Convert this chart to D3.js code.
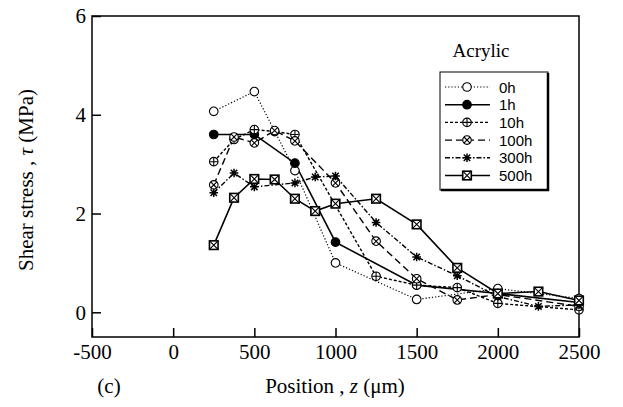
<!DOCTYPE html>
<html>
<head>
<meta charset="utf-8">
<script src="https://cdn.jsdelivr.net/npm/d3@7"></script>
<style>
  body { margin: 0; background: #fff; }
  svg { display: block; }
</style>
</head>
<body>
<div id="chart"></div>
<script>
// values (z in um, tau in MPa)
const seriesNames = ["0h", "1h", "10h", "100h", "300h", "500h"];

const z0h = [250, 500, 750, 1000, 1500, 2000, 2500];
const tau0h = [4.07, 4.47, 2.87, 1.0, 0.26, 0.48, 0.28];

const z1h = [250, 500, 750, 1000, 1500, 2000, 2500];
const tau1h = [3.6, 3.6, 3.02, 1.42, 0.55, 0.38, 0.2];

const z10h = [250, 375, 500, 625, 750, 1250, 1500, 1750, 2000, 2500];
const tau10h = [3.05, 3.5, 3.7, 3.66, 3.6, 0.73, 0.55, 0.5, 0.18, 0.05];

const z100h = [250, 375, 500, 625, 750, 1000, 1250, 1500, 1750, 2000, 2500];
const tau100h = [2.58, 3.55, 3.43, 3.68, 3.47, 2.62, 1.44, 0.68, 0.25, 0.36, 0.12];

const z300h = [250, 375, 500, 750, 875, 1000, 1250, 1500, 1750, 2000, 2250, 2500];
const tau300h = [2.42, 2.82, 2.54, 2.62, 2.74, 2.76, 1.82, 1.12, 0.74, 0.32, 0.12, 0.15];

const z500h = [250, 375, 500, 625, 750, 875, 1000, 1250, 1500, 1750, 2000, 2250, 2500];
const tau500h = [1.36, 2.32, 2.7, 2.69, 2.3, 2.05, 2.2, 2.3, 1.78, 0.9, 0.38, 0.42, 0.24];

const xTicks = [-500, 0, 500, 1000, 1500, 2000, 2500];
const yTicks = [0, 2, 4, 6];

const zs = [z0h, z1h, z10h, z100h, z300h, z500h];
const taus = [tau0h, tau1h, tau10h, tau100h, tau300h, tau500h];

// line + marker style per series
const styles = [
    { marker: "open", dash: "1.2,2", width: 1.2 },
    { marker: "filled", dash: null, width: 1.6 },
    { marker: "oplus", dash: "3,2", width: 1.4 },
    { marker: "otimes", dash: "7,4", width: 1.4 },
    { marker: "star", dash: "5,2,1.5,2", width: 1.4 },
    { marker: "boxtimes", dash: null, width: 1.6 }
];

const series = seriesNames.map((name, i) => ({
    name,
    style: styles[i],
    points: zs[i].map((z, j) => ({ z, tau: taus[i][j] }))
}));

const W = 623, H = 407;
const svg = d3.select("#chart").append("svg")
    .attr("width", W).attr("height", H);

const x = d3.scaleLinear().domain([-500, 2500]).range([92, 579]);
const y = d3.scaleLinear().domain([-0.5, 6]).range([337, 16]);

const serif = "'Liberation Serif', 'Times New Roman', serif";
const sans = "'Liberation Sans', Arial, sans-serif";

// axes with inward ticks
const xAxis = svg.append("g")
    .attr("transform", `translate(0,${y(-0.5)})`)
    .call(d3.axisBottom(x).tickValues(xTicks).tickFormat(d => String(d))
        .tickSize(-9).tickPadding(4).tickSizeOuter(0));
const yAxis = svg.append("g")
    .attr("transform", `translate(${x(-500)},0)`)
    .call(d3.axisLeft(y).tickValues(yTicks).tickFormat(d => String(d))
        .tickSize(-9).tickPadding(6).tickSizeOuter(0));

[xAxis, yAxis].forEach(a => {
    a.select(".domain").remove();
    a.selectAll("line").attr("stroke", "#000").attr("stroke-width", 1.5);
    a.selectAll("text")
        .style("font-family", serif)
        .style("font-size", "21px")
        .attr("fill", "#000");
});
xAxis.selectAll("text").attr("dy", "0.85em");

// frame
svg.append("rect")
    .attr("x", x(-500)).attr("y", y(6))
    .attr("width", x(2500) - x(-500))
    .attr("height", y(-0.5) - y(6))
    .attr("fill", "none")
    .attr("stroke", "#000")
    .attr("stroke-width", 1.5);

function drawMarker(g, type, r) {
    const sw = 1.1;
    if (type === "open" || type === "filled" || type === "oplus" || type === "otimes") {
        g.append("circle").attr("r", r)
            .attr("fill", type === "filled" ? "#000" : "#fff")
            .attr("stroke", "#000").attr("stroke-width", sw);
    }
    if (type === "oplus") {
        g.append("path").attr("d", `M${-r},0H${r}M0,${-r}V${r}`)
            .attr("stroke", "#000").attr("stroke-width", sw);
    }
    if (type === "otimes") {
        const k = r * 0.72;
        g.append("path").attr("d", `M${-k},${-k}L${k},${k}M${-k},${k}L${k},${-k}`)
            .attr("stroke", "#000").attr("stroke-width", sw);
    }
    if (type === "boxtimes") {
        g.append("rect").attr("x", -r).attr("y", -r)
            .attr("width", 2 * r).attr("height", 2 * r)
            .attr("fill", "#fff").attr("stroke", "#000").attr("stroke-width", 1.6);
        g.append("path").attr("d", `M${-r},${-r}L${r},${r}M${-r},${r}L${r},${-r}`)
            .attr("stroke", "#000").attr("stroke-width", sw);
    }
    if (type === "star") {
        const k = r * 0.75;
        g.append("path")
            .attr("d", `M${-r},0H${r}M0,${-r}V${r}M${-k},${-k}L${k},${k}M${-k},${k}L${k},${-k}`)
            .attr("stroke", "#000").attr("stroke-width", 1.5);
    }
}

const line = d3.line().x(d => x(d.z)).y(d => y(d.tau));

const plot = svg.append("g");
series.forEach(s => {
    plot.append("path")
        .datum(s.points)
        .attr("d", line)
        .attr("fill", "none")
        .attr("stroke", "#000")
        .attr("stroke-width", s.style.width)
        .attr("stroke-dasharray", s.style.dash);
});
series.forEach(s => {
    plot.selectAll(null)
        .data(s.points)
        .enter().append("g")
        .attr("transform", d => `translate(${x(d.z)},${y(d.tau)})`)
        .each(function () { drawMarker(d3.select(this), s.style.marker, 4.3); });
});

// legend
const lg = svg.append("g").attr("transform", "translate(440,72)");
const lgW = 108, lgH = 118;
lg.append("rect").attr("width", lgW).attr("height", lgH)
    .attr("fill", "#fff").attr("stroke", "#000").attr("stroke-width", 1);
lg.append("path").attr("d", `M${lgW},1V${lgH}H1`)
    .attr("fill", "none").attr("stroke", "#000").attr("stroke-width", 2.5);

series.forEach((s, i) => {
    const ry = 15 + i * 17.7;
    lg.append("line")
        .attr("x1", 5).attr("x2", 50).attr("y1", ry).attr("y2", ry)
        .attr("stroke", "#000")
        .attr("stroke-width", s.style.width)
        .attr("stroke-dasharray", s.style.dash);
    const m = lg.append("g").attr("transform", `translate(27,${ry})`);
    drawMarker(m, s.style.marker, 4.3);
    lg.append("text")
        .attr("x", 59).attr("y", ry + 5.5)
        .style("font-family", sans).style("font-size", "15px")
        .text(s.name);
});

svg.append("text")
    .attr("x", 481).attr("y", 57)
    .attr("text-anchor", "middle")
    .style("font-family", serif).style("font-size", "19px")
    .text("Acrylic");

// axis titles
const xt = svg.append("text")
    .attr("x", 335).attr("y", 393)
    .attr("text-anchor", "middle")
    .style("font-family", serif).style("font-size", "21px");
xt.append("tspan").text("Position , ");
xt.append("tspan").style("font-style", "italic").text("z");
xt.append("tspan").text(" (\u03bcm)");

const yt = svg.append("text")
    .attr("transform", "translate(33,180) rotate(-90)")
    .attr("text-anchor", "middle")
    .style("font-family", serif).style("font-size", "21px");
yt.append("tspan").text("Shear stress , ");
yt.append("tspan").style("font-style", "italic").text("\u03c4");
yt.append("tspan").text(" (MPa)");

svg.append("text")
    .attr("x", 109).attr("y", 393)
    .attr("text-anchor", "middle")
    .style("font-family", serif).style("font-size", "21px")
    .text("(c)");
</script>
</body>
</html>
